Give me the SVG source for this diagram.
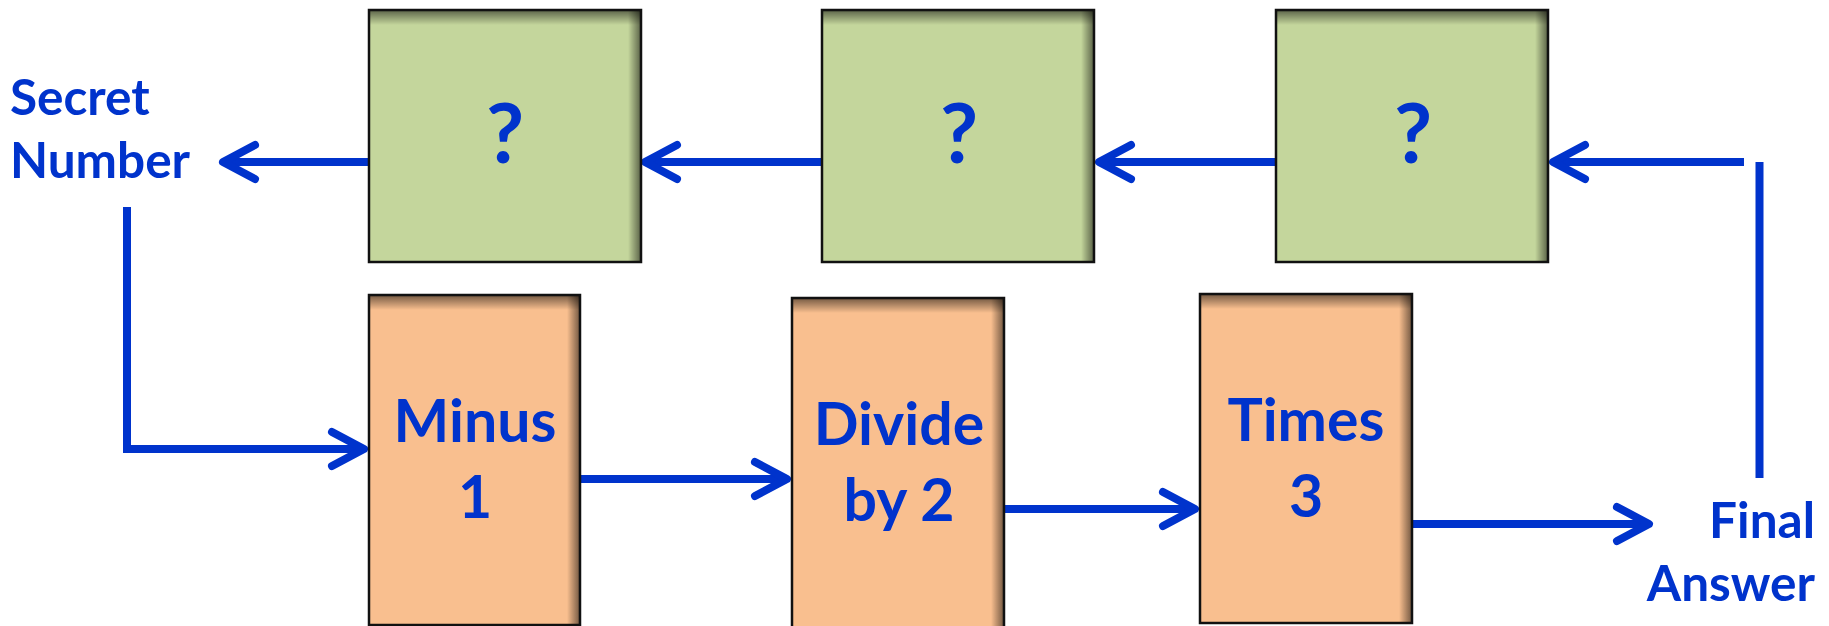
<svg xmlns="http://www.w3.org/2000/svg" width="1829" height="626" viewBox="0 0 1829 626">
  <style>
    .box { stroke: #111; stroke-width: 2.5; }
    .green { fill: #C4D69C; }
    .orange { fill: #F9BF8F; }
    .t { font-family: Lato, "Liberation Sans", sans-serif; font-weight: bold; fill: #0033CC; }
    .lbl { font-size: 49.5px; }
    .btx { font-size: 59px; text-anchor: middle; }
    .q { font-size: 83px; text-anchor: middle; }
    .ln { stroke: #0033CC; stroke-width: 8; fill: none; }
  </style>
  <defs>
    <linearGradient id="topShade" x1="0" y1="0" x2="0" y2="1">
      <stop offset="0" stop-color="#000" stop-opacity="0.5"/>
      <stop offset="1" stop-color="#000" stop-opacity="0"/>
    </linearGradient>
    <linearGradient id="rightShade" x1="0" y1="0" x2="1" y2="0">
      <stop offset="0" stop-color="#000" stop-opacity="0"/>
      <stop offset="1" stop-color="#000" stop-opacity="0.5"/>
    </linearGradient>
    <marker id="arr" markerUnits="userSpaceOnUse" markerWidth="60" markerHeight="60" refX="0" refY="0" orient="auto" overflow="visible">
      <path d="M -32,-17 L 0,0 L -32,17" fill="none" stroke="#0033CC" stroke-width="8" stroke-linecap="round" stroke-linejoin="round"/>
    </marker>
  </defs>

  <g id="connectors">
    <line class="ln" x1="369" y1="162" x2="223" y2="162" marker-end="url(#arr)"/>
    <line class="ln" x1="822" y1="162" x2="645" y2="162" marker-end="url(#arr)"/>
    <line class="ln" x1="1276" y1="162" x2="1099" y2="162" marker-end="url(#arr)"/>
    <line class="ln" x1="1744" y1="162" x2="1553" y2="162" marker-end="url(#arr)"/>
    <line class="ln" x1="1759.5" y1="162" x2="1759.5" y2="478"/>
    <line class="ln" x1="127" y1="207" x2="127" y2="452"/>
    <line class="ln" x1="123" y1="449" x2="364" y2="449" marker-end="url(#arr)"/>
    <line class="ln" x1="580" y1="479" x2="787" y2="479" marker-end="url(#arr)"/>
    <line class="ln" x1="1004" y1="509" x2="1195" y2="509" marker-end="url(#arr)"/>
    <line class="ln" x1="1412" y1="524" x2="1649" y2="524" marker-end="url(#arr)"/>
  </g>

  <g id="secret-number">
    <text class="t lbl" x="10" y="115">Secret</text>
    <text class="t lbl" x="10" y="178">Number</text>
  </g>
  <g id="final-answer">
    <text class="t lbl" x="1815" y="538" text-anchor="end">Final</text>
    <text class="t lbl" x="1815" y="601" text-anchor="end">Answer</text>
  </g>

  <g id="q1">
    <rect class="box green" x="369" y="10" width="272" height="252"/>
    <rect x="370" y="11" width="270" height="14" fill="url(#topShade)"/>
    <rect x="628" y="11" width="12" height="250" fill="url(#rightShade)"/>
    <text class="t q" x="505" y="163">?</text>
  </g>
  <g id="q2">
    <rect class="box green" x="822" y="10" width="272" height="252"/>
    <rect x="823" y="11" width="270" height="14" fill="url(#topShade)"/>
    <rect x="1081" y="11" width="12" height="250" fill="url(#rightShade)"/>
    <text class="t q" x="959" y="163">?</text>
  </g>
  <g id="q3">
    <rect class="box green" x="1276" y="10" width="272" height="252"/>
    <rect x="1277" y="11" width="270" height="14" fill="url(#topShade)"/>
    <rect x="1535" y="11" width="12" height="250" fill="url(#rightShade)"/>
    <text class="t q" x="1413" y="163">?</text>
  </g>

  <g id="minus1">
    <rect class="box orange" x="369" y="295" width="211" height="330"/>
    <rect x="370" y="296" width="209" height="14" fill="url(#topShade)"/>
    <rect x="567" y="296" width="12" height="328" fill="url(#rightShade)"/>
    <text class="t btx" x="475" y="442">Minus</text>
    <text class="t btx" x="475" y="518">1</text>
  </g>
  <g id="divide2">
    <rect class="box orange" x="792" y="298" width="212" height="340"/>
    <rect x="793" y="299" width="210" height="14" fill="url(#topShade)"/>
    <rect x="991" y="299" width="12" height="338" fill="url(#rightShade)"/>
    <text class="t btx" x="899" y="445">Divide</text>
    <text class="t btx" x="899" y="521">by 2</text>
  </g>
  <g id="times3">
    <rect class="box orange" x="1200" y="294" width="212" height="329"/>
    <rect x="1201" y="295" width="210" height="14" fill="url(#topShade)"/>
    <rect x="1399" y="295" width="12" height="327" fill="url(#rightShade)"/>
    <text class="t btx" x="1306" y="441">Times</text>
    <text class="t btx" x="1306" y="517">3</text>
  </g>
</svg>
